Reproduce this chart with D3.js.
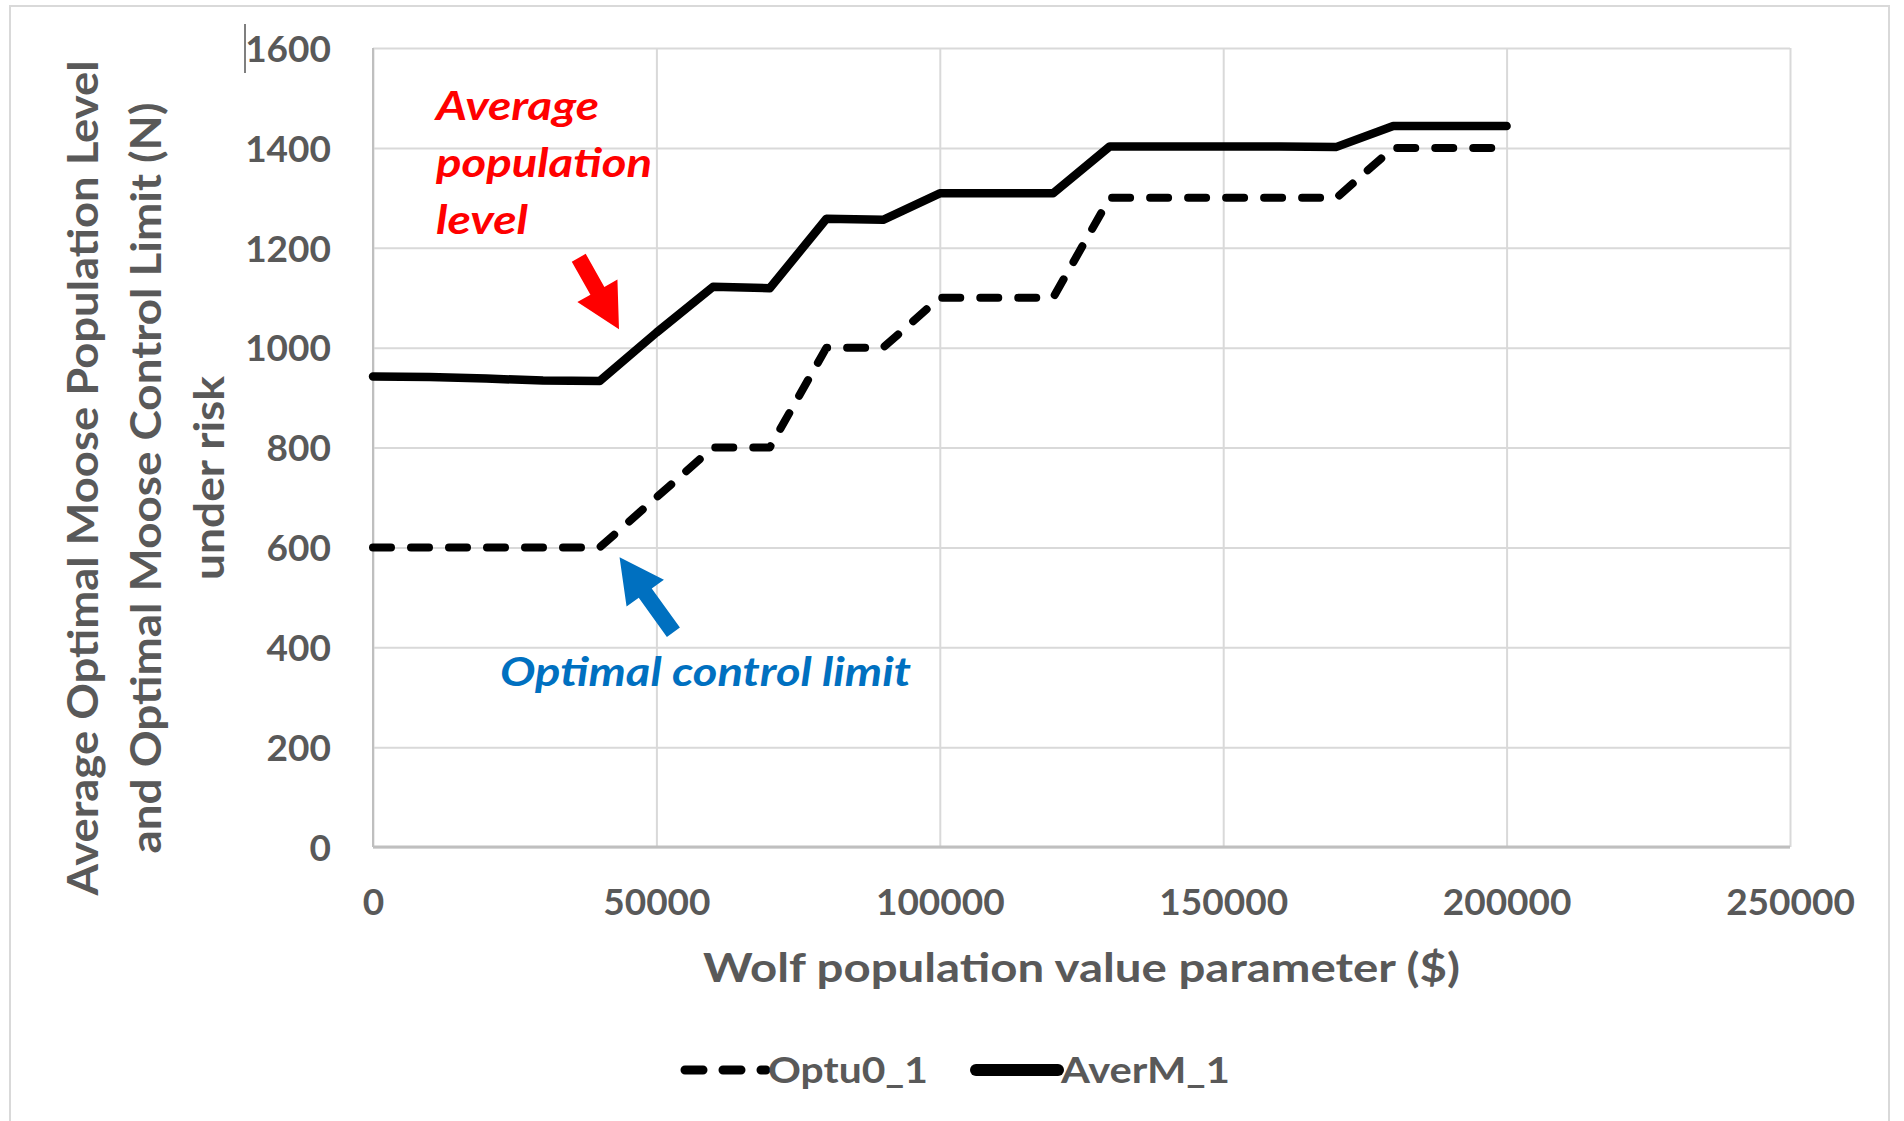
<!DOCTYPE html>
<html>
<head>
<meta charset="utf-8">
<script src="https://cdn.jsdelivr.net/npm/d3@7"></script>
<style>
  body { margin: 0; background: #fff; }
  svg text { font-family: Lato, "Open Sans", sans-serif; }
</style>
</head>
<body>
<svg id="chart" width="1904" height="1121"></svg>
<script>
// data
var wolfValue = [0, 10000, 20000, 30000, 40000, 50000, 60000, 70000, 80000, 90000, 100000,
                 110000, 120000, 130000, 140000, 150000, 160000, 170000, 180000, 190000, 200000];
var optu0 = [600, 600, 600, 600, 600, 700, 800, 800, 1000, 1000, 1100,
             1100, 1100, 1300, 1300, 1300, 1300, 1300, 1400, 1400, 1400];
var averM = [942, 941, 938, 934, 933, 1030, 1122, 1119, 1258, 1256, 1309,
             1309, 1309, 1403, 1403, 1403, 1403, 1402, 1444, 1444, 1444];
var xTicks = [0, 50000, 100000, 150000, 200000, 250000];
var yTicks = [0, 200, 400, 600, 800, 1000, 1200, 1400, 1600];
var seriesNames = ["Optu0_1", "AverM_1"];

// all the chart stuff goes under this object
chart = {};
chart.svg = d3.select("#chart");
chart.margins = { top: 48, bottom: 274, left: 373, right: 114 };
chart.width = 1904 - chart.margins.left - chart.margins.right;
chart.height = 1121 - chart.margins.top - chart.margins.bottom;

chart.x = d3.scaleLinear().domain([0, 250000])
    .range([chart.margins.left, chart.margins.left + chart.width]);
chart.y = d3.scaleLinear().domain([0, 1600])
    .range([chart.margins.top + chart.height, chart.margins.top]);

var grey = "#595959";

// the picture is a bit wider than tall, so long texts get stretched to fit
function stretched(sel, len) {
    return sel.attr("textLength", len).attr("lengthAdjust", "spacingAndGlyphs");
}

// outer frame of the chart
chart.svg.append("rect")
    .attr("x", 10).attr("y", 6)
    .attr("width", 1879).attr("height", 1125)
    .attr("fill", "#fff")
    .attr("stroke", "#d9d9d9")
    .attr("stroke-width", 2);

// stray cursor mark at the top left
chart.svg.append("line")
    .attr("x1", 245).attr("x2", 245)
    .attr("y1", 24).attr("y2", 73)
    .attr("stroke", "#555").attr("stroke-width", 1.5);

// gridlines
chart.svg.append("g")
    .attr("transform", "translate(0," + (chart.margins.top + chart.height) + ")")
    .call(d3.axisBottom(chart.x).tickValues(xTicks).tickSize(-chart.height).tickFormat(""))
    .call(g => g.select(".domain").remove())
    .selectAll("line").attr("stroke", "#d9d9d9").attr("stroke-width", 2);

chart.svg.append("g")
    .attr("transform", "translate(" + chart.margins.left + ",0)")
    .call(d3.axisLeft(chart.y).tickValues(yTicks).tickSize(-chart.width).tickFormat(""))
    .call(g => g.select(".domain").remove())
    .selectAll("line").attr("stroke", "#d9d9d9").attr("stroke-width", 2);

// axis lines
chart.svg.append("line")
    .attr("x1", chart.x(0)).attr("x2", chart.x(250000))
    .attr("y1", chart.y(0)).attr("y2", chart.y(0))
    .attr("stroke", "#bfbfbf").attr("stroke-width", 3);
chart.svg.append("line")
    .attr("x1", chart.x(0)).attr("x2", chart.x(0))
    .attr("y1", chart.y(0)).attr("y2", chart.y(1600))
    .attr("stroke", "#bfbfbf").attr("stroke-width", 2);

// tick labels
var yAxis = chart.svg.append("g")
    .attr("transform", "translate(331,0)")
    .call(d3.axisLeft(chart.y).tickValues(yTicks).tickSize(0).tickPadding(0).tickFormat(d3.format("d")));
yAxis.select(".domain").remove();
yAxis.selectAll("text")
    .attr("fill", grey).attr("font-size", "37px").attr("font-weight", "bold")
    .attr("font-family", "Lato").attr("dy", "0.36em");

var xAxis = chart.svg.append("g")
    .attr("transform", "translate(0,915)")
    .call(d3.axisBottom(chart.x).tickValues(xTicks).tickSize(0).tickPadding(0).tickFormat(d3.format("d")));
xAxis.select(".domain").remove();
xAxis.selectAll("text")
    .attr("fill", grey).attr("font-size", "37px").attr("font-weight", "bold")
    .attr("font-family", "Lato").attr("dy", "0");

// axis titles
stretched(chart.svg.append("text")
    .attr("x", chart.margins.left + chart.width / 2)
    .attr("y", 982)
    .attr("text-anchor", "middle")
    .attr("fill", grey).attr("font-size", "40px").attr("font-weight", "bold")
    .text("Wolf population value parameter ($)"), 757);

var yTitleLines = ["Average Optimal Moose Population Level", "and Optimal Moose Control Limit (N)", "under risk"];
var yTitleLens = [835, 751, 204];
yTitleLines.forEach(function(t, i) {
    stretched(chart.svg.append("text")
        .attr("transform", "translate(" + (98 + i * 63) + ",478) rotate(-90)")
        .attr("text-anchor", "middle")
        .attr("fill", grey).attr("font-size", "42px").attr("font-weight", "bold")
        .text(t), yTitleLens[i]);
});

// the two series
var line = function(vals) {
    return d3.line()
        .x(function(d, i) { return chart.x(wolfValue[i]); })
        .y(function(d) { return chart.y(d); })(vals);
};

chart.svg.append("path")
    .attr("d", line(optu0))
    .attr("fill", "none").attr("stroke", "#000")
    .attr("stroke-width", 8)
    .attr("stroke-linecap", "round").attr("stroke-linejoin", "round")
    .attr("stroke-dasharray", "18,20");

chart.svg.append("path")
    .attr("d", line(averM))
    .attr("fill", "none").attr("stroke", "#000")
    .attr("stroke-width", 8.5)
    .attr("stroke-linecap", "round").attr("stroke-linejoin", "round");

// arrows for the annotations
function arrow(x1, y1, x2, y2, color) {
    var dx = x2 - x1, dy = y2 - y1, len = Math.sqrt(dx * dx + dy * dy);
    var ux = dx / len, uy = dy / len, nx = -uy, ny = ux;
    var sw = 8, hw = 23, hl = 44;
    var bx = x2 - ux * hl, by = y2 - uy * hl;
    var pts = [
        [x1 + nx * sw, y1 + ny * sw], [bx + nx * sw, by + ny * sw], [bx + nx * hw, by + ny * hw],
        [x2, y2],
        [bx - nx * hw, by - ny * hw], [bx - nx * sw, by - ny * sw], [x1 - nx * sw, y1 - ny * sw]
    ];
    chart.svg.append("polygon")
        .attr("points", pts.map(function(p) { return p.join(","); }).join(" "))
        .attr("fill", color);
}

arrow(chart.x(36300), chart.y(1180), chart.x(43400), chart.y(1037), "#ff0000");
arrow(chart.x(53000), chart.y(430), chart.x(43500), chart.y(580), "#0070c0");

var redLines = ["Average", "population", "level"];
var redLens = [163, 216, 92];
redLines.forEach(function(t, i) {
    stretched(chart.svg.append("text")
        .attr("x", 436).attr("y", 120 + i * 57)
        .attr("fill", "#ff0000").attr("font-size", "40px")
        .attr("font-weight", "bold").attr("font-style", "italic")
        .text(t), redLens[i]);
});

stretched(chart.svg.append("text")
    .attr("x", 500).attr("y", 686)
    .attr("fill", "#0070c0").attr("font-size", "40px")
    .attr("font-weight", "bold").attr("font-style", "italic")
    .text("Optimal control limit"), 411);

// legend
var legend = chart.svg.append("g").attr("transform", "translate(0,1070)");
legend.append("line")
    .attr("x1", 685).attr("x2", 766).attr("y1", 0).attr("y2", 0)
    .attr("stroke", "#000").attr("stroke-width", 9)
    .attr("stroke-linecap", "round").attr("stroke-dasharray", "18,20");
stretched(legend.append("text")
    .attr("x", 768).attr("y", 13)
    .attr("fill", grey).attr("font-size", "37px").attr("font-weight", "bold")
    .text(seriesNames[0]), 160);
legend.append("line")
    .attr("x1", 976).attr("x2", 1058).attr("y1", 0).attr("y2", 0)
    .attr("stroke", "#000").attr("stroke-width", 12)
    .attr("stroke-linecap", "round");
stretched(legend.append("text")
    .attr("x", 1061).attr("y", 13)
    .attr("fill", grey).attr("font-size", "37px").attr("font-weight", "bold")
    .text(seriesNames[1]), 169);
</script>
</body>
</html>
